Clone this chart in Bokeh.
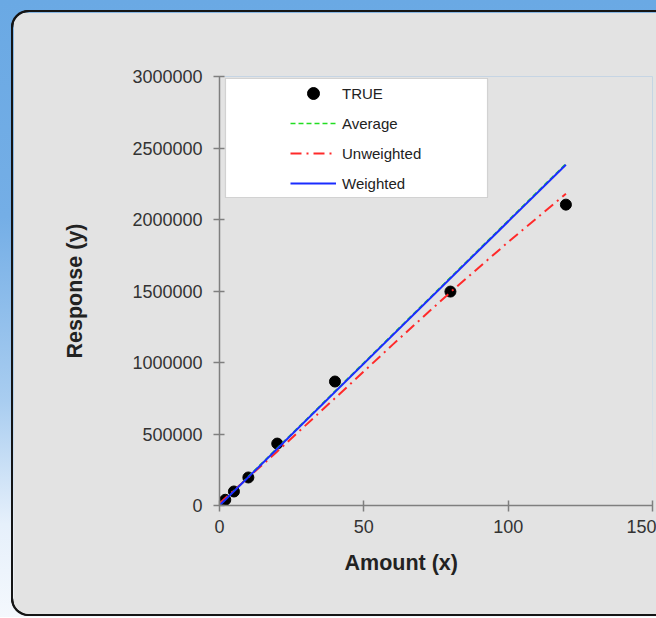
from bokeh.plotting import figure
from bokeh.layouts import column
from bokeh.models import (BoxAnnotation, FixedTicker, BasicTickFormatter,
                          Legend, LegendItem, Title)
from bokeh.embed import file_html
from bokeh.resources import INLINE

# ---- data ----
amount = [0.5, 1, 2, 5, 10, 20, 40, 80, 120]
response = [8000, 20000, 40000, 98000, 196000, 433000, 867000, 1496000, 2104000]

fit_x = [0, 120]
average_y = [4000, 2390000]
weighted_y = [0, 2383000]

unw_x = [0, 20, 40, 60, 80, 100, 120]
unweighted_y = [15000, 378000, 750000, 1125000, 1492000, 1842000, 2180000]

x_ticks = [0, 50, 100, 150]
y_ticks = [0, 500000, 1000000, 1500000, 2000000, 2500000, 3000000]

W, H = 643, 602
PANEL = "#e3e3e3"
FONT = "Liberation Sans"

p = figure(width=W, height=H, x_range=(0, 150), y_range=(0, 3000000),
           output_backend="svg", toolbar_location=None,
           min_border_left=206, min_border_right=4,
           min_border_top=64, min_border_bottom=109)
p.background_fill_color = PANEL
p.border_fill_color = PANEL
p.outline_line_color = None
p.xgrid.visible = False
p.ygrid.visible = False
p.margin = (12, 0, 3, 13)
p.styles = {"border-radius": "16px 0 0 16px", "overflow": "hidden",
            "box-shadow": "-2px 0 0 0 #151515, 0 -2px 0 0 #151515, "
                          "0 2px 0 0 #151515, -1px -1px 0 1px #151515, -1px 1px 0 1px #151515"}

# legend frame
p.add_layout(BoxAnnotation(left=212, right=474, top=66, bottom=185,
                           left_units="canvas", right_units="canvas",
                           top_units="canvas", bottom_units="canvas",
                           fill_color="white", fill_alpha=1,
                           line_color="#8a8a8a", line_width=1.2, level="underlay"))

pts = p.scatter(amount, response, size=11, color="black")
g = p.line(fit_x, average_y, line_color="#22dd22", line_width=1.6, line_dash="5 3")
r = p.line(unw_x, unweighted_y, line_color="#ff2a2a", line_width=2, line_dash="11 5 2 5")
b = p.line(fit_x, weighted_y, line_color="#1a2cff", line_width=2)

legend = Legend(items=[LegendItem(label="TRUE", renderers=[pts]),
                       LegendItem(label="Average", renderers=[g]),
                       LegendItem(label="Unweighted", renderers=[r]),
                       LegendItem(label="Weighted", renderers=[b])],
                location=(71, 307), padding=0, spacing=0, margin=0,
                glyph_width=46, glyph_height=30, label_height=30, label_standoff=6,
                background_fill_alpha=0, border_line_alpha=0,
                label_text_font=FONT, label_text_font_size="15px",
                label_text_color="#222222")
p.add_layout(legend)

p.xaxis.ticker = FixedTicker(ticks=x_ticks)
p.yaxis.ticker = FixedTicker(ticks=y_ticks)
p.yaxis.formatter = BasicTickFormatter(use_scientific=False)
p.yaxis.axis_label = "Response (y)"

for ax in (p.xaxis[0], p.yaxis[0]):
    ax.axis_line_color = "#7f7f7f"
    ax.axis_line_width = 1.5
    ax.major_tick_line_color = "#7f7f7f"
    ax.major_tick_line_width = 1.5
    ax.major_tick_in = 5
    ax.major_tick_out = 6
    ax.minor_tick_line_color = None
    ax.major_label_text_font = FONT
    ax.major_label_text_font_size = "18px"
    ax.major_label_text_color = "#333333"
    ax.axis_label_text_font = FONT
    ax.axis_label_text_font_size = "21.5px"
    ax.axis_label_text_font_style = "bold"
    ax.axis_label_text_color = "#222222"

p.xaxis.major_label_standoff = 8
p.yaxis.major_label_standoff = 11
p.yaxis.axis_label_standoff = 42

# x-axis title, placed left of the frame centre as in the reference
p.add_layout(Title(text="Amount (x)", align="left", offset=125, standoff=27,
                   text_font=FONT, text_font_size="21.5px", text_font_style="bold",
                   text_color="#222222"), "below")

page = column(p, styles={"background": "linear-gradient(to bottom, #6aa9e4 0%, #74aee6 35%, "
                                       "#a9cdf0 65%, #e6f0fb 85%, #f4f8fd 100%)"})

open("out.html", "w").write(file_html(page, INLINE))
